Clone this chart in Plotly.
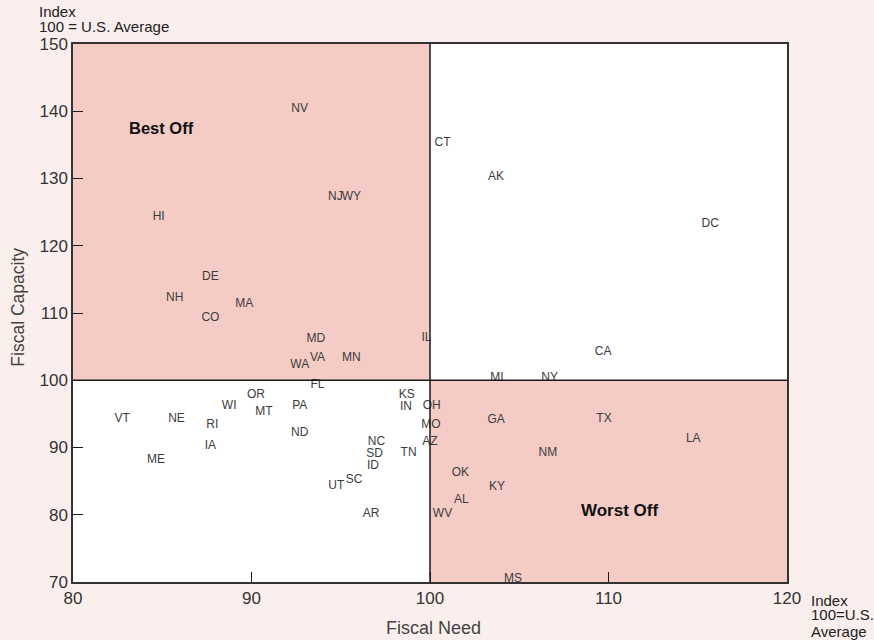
import plotly.graph_objects as go

states = ["NV", "NJ", "WY", "HI", "DE", "NH", "MA", "CO", "MD", "VA", "WA", "MN", "IL", "FL",
          "CT", "AK", "DC", "CA", "MI", "NY",
          "VT", "NE", "RI", "WI", "OR", "MT", "PA", "ND", "IA", "ME", "KS", "IN", "NC", "SD", "ID",
          "TN", "SC", "UT", "AR",
          "OH", "MO", "AZ", "GA", "TX", "LA", "NM", "OK", "KY", "AL", "WV", "MS"]
fiscal_need = [92.7, 94.7, 95.6, 84.8, 87.7, 85.7, 89.6, 87.7, 93.6, 93.7, 92.7, 95.6, 99.8, 93.7,
               100.7, 103.7, 115.7, 109.7, 103.75, 106.7,
               82.75, 85.8, 87.8, 88.75, 90.25, 90.7, 92.7, 92.7, 87.7, 84.65, 98.7, 98.65, 97.0, 96.9, 96.8,
               98.8, 95.75, 94.75, 96.7,
               100.1, 100.05, 100.0, 103.7, 109.75, 114.75, 106.6, 101.7, 103.75, 101.75, 100.7, 104.65]
fiscal_capacity = [140.3, 127.2, 127.2, 124.3, 115.3, 112.2, 111.3, 109.2, 106.1, 103.3, 102.3, 103.3, 106.3, 99.3,
                   135.3, 130.2, 123.2, 104.2, 100.3, 100.3,
                   94.2, 94.2, 93.3, 96.2, 97.8, 95.3, 96.2, 92.1, 90.2, 88.1, 97.8, 96.0, 90.8, 89.0, 87.2,
                   89.2, 85.2, 84.3, 80.1,
                   96.2, 93.3, 90.8, 94.1, 94.2, 91.3, 89.2, 86.2, 84.1, 82.2, 80.1, 70.4]

x_ticks = [80, 90, 100, 110, 120]
y_ticks = [70, 80, 90, 100, 110, 120, 130, 140, 150]

PINK = "#f4cbc5"
PAPER = "#fbefed"
FONT = "Liberation Sans, Arial, sans-serif"

fig = go.Figure()
fig.add_trace(go.Scatter(
    x=fiscal_need, y=fiscal_capacity, mode="text", text=states,
    textposition="middle center",
    textfont=dict(family=FONT, size=12, color="#3c3c3c"),
    hoverinfo="text", showlegend=False,
))

# quadrant shading
fig.add_shape(type="rect", xref="x", yref="y", x0=80, x1=100, y0=100, y1=150,
              fillcolor=PINK, line=dict(width=0), layer="below")
fig.add_shape(type="rect", xref="x", yref="y", x0=100, x1=120, y0=70, y1=100,
              fillcolor=PINK, line=dict(width=0), layer="below")
# dividing lines
fig.add_shape(type="line", xref="x", yref="y", x0=100, x1=100, y0=70, y1=150,
              line=dict(color="#1a1a1a", width=1.5))
fig.add_shape(type="line", xref="x", yref="y", x0=80, x1=120, y0=100, y1=100,
              line=dict(color="#1a1a1a", width=1.5))


def note(text, x, y, size=15, color="#222", anchor="left"):
    return dict(x=x, y=y, xref="paper", yref="paper", xanchor=anchor, yanchor="middle",
                text=text, showarrow=False, font=dict(family=FONT, size=size, color=color))


annotations = [
    dict(x=84.93, y=137.5, xref="x", yref="y", text="<b>Best Off</b>", showarrow=False,
         font=dict(family=FONT, size=16.5, color="#111")),
    dict(x=110.6, y=80.7, xref="x", yref="y", text="<b>Worst Off</b>", showarrow=False,
         font=dict(family=FONT, size=17, color="#111")),
    note("Index", -0.0504, 1.0595),
    note("100 = U.S. Average", -0.0504, 1.0316),
    note("Index", 1.0308, -0.0335),
    note("100=U.S.", 1.0308, -0.0613),
    note("Average", 1.0308, -0.0911),
    note("Fiscal Need", 0.5056, -0.0855, size=18, color="#444", anchor="center"),
    dict(x=-0.077, y=0.51, xref="paper", yref="paper", xanchor="center", yanchor="middle",
         text="Fiscal Capacity", textangle=-90, showarrow=False,
         font=dict(family=FONT, size=17.5, color="#444")),
]

fig.update_layout(
    width=874, height=640,
    margin=dict(l=73, r=87, t=44, b=58),
    paper_bgcolor=PAPER, plot_bgcolor="white",
    annotations=annotations,
    xaxis=dict(range=[80, 120], tickvals=x_ticks, ticktext=[str(v) for v in x_ticks],
               ticks="inside", ticklen=10, tickcolor="#1a1a1a", tickwidth=1.2,
               showgrid=False, zeroline=False, showline=True, mirror=True,
               linecolor="#333", linewidth=1.5,
               tickfont=dict(family=FONT, size=17, color="#333")),
    yaxis=dict(range=[70, 150], tickvals=y_ticks, ticktext=[str(v) for v in y_ticks],
               ticks="inside", ticklen=10, tickcolor="#1a1a1a", tickwidth=1.2,
               showgrid=False, zeroline=False, showline=True, mirror=True,
               linecolor="#333", linewidth=1.5,
               tickfont=dict(family=FONT, size=17, color="#333")),
)

fig.write_html(
    "out.html",
    config={"displayModeBar": False},
    post_script=("document.body.style.margin='0';document.body.style.padding='0';"
                 "document.body.style.overflow='hidden';"
                 "document.body.style.background='" + PAPER + "';"),
)
